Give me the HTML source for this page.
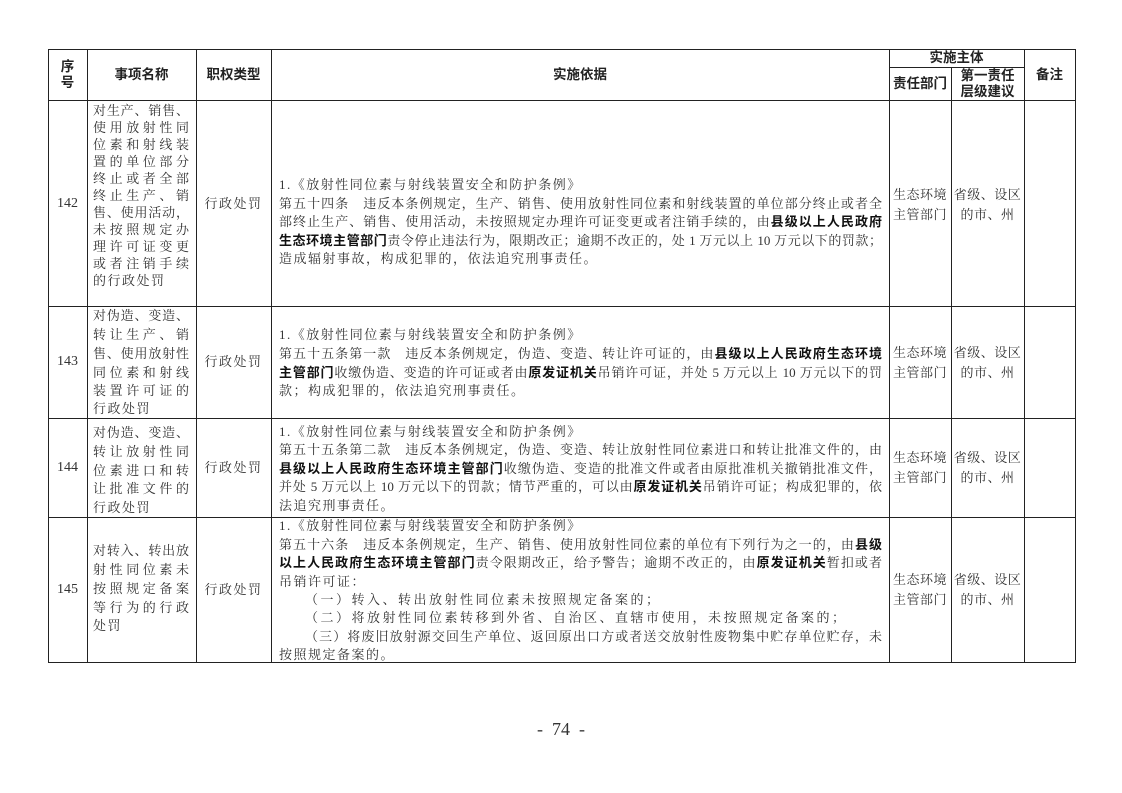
<!DOCTYPE html>
<html><head><meta charset="utf-8">
<style>
html,body{margin:0;padding:0;background:#fff;}
body{width:1122px;height:793px;position:relative;overflow:hidden;font-family:"Liberation Serif","Noto Serif CJK SC",serif;color:#222;}
.h{position:absolute;background:#222;height:1.3px;}
.v{position:absolute;background:#222;width:1.3px;}
.t{position:absolute;white-space:nowrap;font-size:13px;line-height:17px;height:17px;color:#333;}
.t:not(.j){letter-spacing:1.5px;}
.j{text-align:justify;text-align-last:justify;}
.c{text-align:center;}
.hd{position:absolute;white-space:nowrap;font-family:"Liberation Sans","Noto Sans CJK SC",sans-serif;font-weight:bold;font-size:13.5px;line-height:16px;text-align:center;}
b{font-family:"Liberation Sans","Noto Sans CJK SC",sans-serif;font-weight:bold;color:#111;}
</style></head><body>
<div class="h" style="left:48px;top:49px;width:1028px"></div>
<div class="h" style="left:889px;top:67px;width:135px"></div>
<div class="h" style="left:48px;top:100px;width:1028px"></div>
<div class="h" style="left:48px;top:306px;width:1028px"></div>
<div class="h" style="left:48px;top:418px;width:1028px"></div>
<div class="h" style="left:48px;top:517px;width:1028px"></div>
<div class="h" style="left:48px;top:662px;width:1028px"></div>
<div class="v" style="left:48px;top:49px;height:614px"></div>
<div class="v" style="left:87px;top:49px;height:614px"></div>
<div class="v" style="left:196px;top:49px;height:614px"></div>
<div class="v" style="left:271px;top:49px;height:614px"></div>
<div class="v" style="left:889px;top:49px;height:614px"></div>
<div class="v" style="left:951px;top:67px;height:596px"></div>
<div class="v" style="left:1024px;top:49px;height:614px"></div>
<div class="v" style="left:1075px;top:49px;height:614px"></div>

<div class="hd" style="left:48px;top:59px;width:39px">序<br>号</div>
<div class="hd" style="left:87px;top:67px;width:109px">事项名称</div>
<div class="hd" style="left:196px;top:67px;width:75px">职权类型</div>
<div class="hd" style="left:271px;top:67px;width:618px">实施依据</div>
<div class="hd" style="left:889px;top:50px;width:135px">实施主体</div>
<div class="hd" style="left:889px;top:76px;width:62px">责任部门</div>
<div class="hd" style="left:951px;top:68px;width:73px">第一责任<br>层级建议</div>
<div class="hd" style="left:1024px;top:67px;width:51px">备注</div>

<div class="t c" style="left:48px;top:195px;width:39px;font-size:14px;letter-spacing:0">142</div>
<div class="t j" style="left:93px;top:102px;width:96px">对生产、销售、</div>
<div class="t j" style="left:93px;top:119px;width:96px">使用放射性同</div>
<div class="t j" style="left:93px;top:136px;width:96px">位素和射线装</div>
<div class="t j" style="left:93px;top:153px;width:96px">置的单位部分</div>
<div class="t j" style="left:93px;top:170px;width:96px">终止或者全部</div>
<div class="t j" style="left:93px;top:187px;width:96px">终止生产、销</div>
<div class="t j" style="left:93px;top:204px;width:96px">售、使用活动，</div>
<div class="t j" style="left:93px;top:221px;width:96px">未按照规定办</div>
<div class="t j" style="left:93px;top:238px;width:96px">理许可证变更</div>
<div class="t j" style="left:93px;top:255px;width:96px">或者注销手续</div>
<div class="t" style="left:93px;top:272px;">的行政处罚</div>
<div class="t c" style="left:196px;top:195px;width:75px">行政处罚</div>
<div class="t" style="left:279px;top:176px;">1.《放射性同位素与射线装置安全和防护条例》</div>
<div class="t j" style="left:279px;top:195px;width:603px">第五十四条　违反本条例规定，生产、销售、使用放射性同位素和射线装置的单位部分终止或者全</div>
<div class="t j" style="left:279px;top:213px;width:603px">部终止生产、销售、使用活动，未按照规定办理许可证变更或者注销手续的，由<b>县级以上人民政府</b></div>
<div class="t j" style="left:279px;top:232px;width:603px"><b>生态环境主管部门</b>责令停止违法行为，限期改正；逾期不改正的，处 1 万元以上 10 万元以下的罚款；</div>
<div class="t" style="left:279px;top:250px;">造成辐射事故，构成犯罪的，依法追究刑事责任。</div>
<div class="t c" style="left:889px;top:185px;width:62px;line-height:20px;height:40px;letter-spacing:0.5px">生态环境<br>主管部门</div>
<div class="t c" style="left:951px;top:185px;width:73px;line-height:20px;height:40px;letter-spacing:0.5px">省级、设区<br>的市、州</div>

<div class="t c" style="left:48px;top:353px;width:39px;font-size:14px;letter-spacing:0">143</div>
<div class="t j" style="left:93px;top:307px;width:96px">对伪造、变造、</div>
<div class="t j" style="left:93px;top:326px;width:96px">转让生产、销</div>
<div class="t j" style="left:93px;top:345px;width:96px">售、使用放射性</div>
<div class="t j" style="left:93px;top:364px;width:96px">同位素和射线</div>
<div class="t j" style="left:93px;top:382px;width:96px">装置许可证的</div>
<div class="t" style="left:93px;top:400px;">行政处罚</div>
<div class="t c" style="left:196px;top:353px;width:75px">行政处罚</div>
<div class="t" style="left:279px;top:326px;">1.《放射性同位素与射线装置安全和防护条例》</div>
<div class="t j" style="left:279px;top:345px;width:603px">第五十五条第一款　违反本条例规定，伪造、变造、转让许可证的，由<b>县级以上人民政府生态环境</b></div>
<div class="t j" style="left:279px;top:364px;width:603px"><b>主管部门</b>收缴伪造、变造的许可证或者由<b>原发证机关</b>吊销许可证，并处 5 万元以上 10 万元以下的罚</div>
<div class="t" style="left:279px;top:382px;">款；构成犯罪的，依法追究刑事责任。</div>
<div class="t c" style="left:889px;top:343px;width:62px;line-height:20px;height:40px;letter-spacing:0.5px">生态环境<br>主管部门</div>
<div class="t c" style="left:951px;top:343px;width:73px;line-height:20px;height:40px;letter-spacing:0.5px">省级、设区<br>的市、州</div>

<div class="t c" style="left:48px;top:459px;width:39px;font-size:14px;letter-spacing:0">144</div>
<div class="t j" style="left:93px;top:424px;width:96px">对伪造、变造、</div>
<div class="t j" style="left:93px;top:443px;width:96px">转让放射性同</div>
<div class="t j" style="left:93px;top:462px;width:96px">位素进口和转</div>
<div class="t j" style="left:93px;top:480px;width:96px">让批准文件的</div>
<div class="t" style="left:93px;top:499px;">行政处罚</div>
<div class="t c" style="left:196px;top:459px;width:75px">行政处罚</div>
<div class="t" style="left:279px;top:423px;">1.《放射性同位素与射线装置安全和防护条例》</div>
<div class="t j" style="left:279px;top:441px;width:603px">第五十五条第二款　违反本条例规定，伪造、变造、转让放射性同位素进口和转让批准文件的，由</div>
<div class="t j" style="left:279px;top:460px;width:603px"><b>县级以上人民政府生态环境主管部门</b>收缴伪造、变造的批准文件或者由原批准机关撤销批准文件，</div>
<div class="t j" style="left:279px;top:478px;width:603px">并处 5 万元以上 10 万元以下的罚款；情节严重的，可以由<b>原发证机关</b>吊销许可证；构成犯罪的，依</div>
<div class="t" style="left:279px;top:497px;">法追究刑事责任。</div>
<div class="t c" style="left:889px;top:448px;width:62px;line-height:20px;height:40px;letter-spacing:0.5px">生态环境<br>主管部门</div>
<div class="t c" style="left:951px;top:448px;width:73px;line-height:20px;height:40px;letter-spacing:0.5px">省级、设区<br>的市、州</div>

<div class="t c" style="left:48px;top:581px;width:39px;font-size:14px;letter-spacing:0">145</div>
<div class="t j" style="left:93px;top:542px;width:96px">对转入、转出放</div>
<div class="t j" style="left:93px;top:561px;width:96px">射性同位素未</div>
<div class="t j" style="left:93px;top:580px;width:96px">按照规定备案</div>
<div class="t j" style="left:93px;top:599px;width:96px">等行为的行政</div>
<div class="t" style="left:93px;top:617px;">处罚</div>
<div class="t c" style="left:196px;top:581px;width:75px">行政处罚</div>
<div class="t" style="left:279px;top:517px;">1.《放射性同位素与射线装置安全和防护条例》</div>
<div class="t j" style="left:279px;top:536px;width:603px">第五十六条　违反本条例规定，生产、销售、使用放射性同位素的单位有下列行为之一的，由<b>县级</b></div>
<div class="t j" style="left:279px;top:554px;width:603px"><b>以上人民政府生态环境主管部门</b>责令限期改正，给予警告；逾期不改正的，由<b>原发证机关</b>暂扣或者</div>
<div class="t" style="left:279px;top:573px;">吊销许可证：</div>
<div class="t" style="left:305px;top:591px;letter-spacing:2.5px">（一）转入、转出放射性同位素未按照规定备案的；</div>
<div class="t" style="left:305px;top:609px;letter-spacing:2.5px">（二）将放射性同位素转移到外省、自治区、直辖市使用，未按照规定备案的；</div>
<div class="t j" style="left:305px;top:628px;width:577px">（三）将废旧放射源交回生产单位、返回原出口方或者送交放射性废物集中贮存单位贮存，未</div>
<div class="t" style="left:279px;top:646px;">按照规定备案的。</div>
<div class="t c" style="left:889px;top:570px;width:62px;line-height:20px;height:40px;letter-spacing:0.5px">生态环境<br>主管部门</div>
<div class="t c" style="left:951px;top:570px;width:73px;line-height:20px;height:40px;letter-spacing:0.5px">省级、设区<br>的市、州</div>

<div style="position:absolute;left:500px;top:719px;width:122px;text-align:center;font-size:18px;line-height:20px;white-space:pre;color:#333;">-  74  -</div>
</body></html>
